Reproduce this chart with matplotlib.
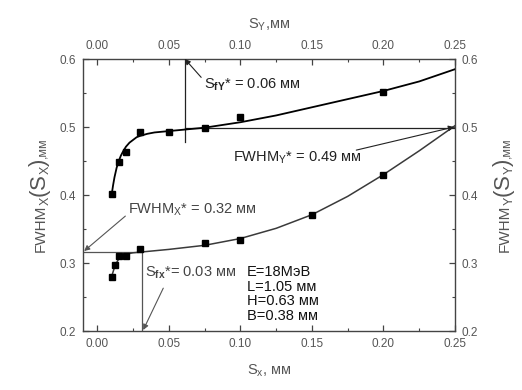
import matplotlib
matplotlib.use("Agg")
import matplotlib.pyplot as plt
from matplotlib.ticker import MultipleLocator, FormatStrFormatter
import matplotlib.transforms as mtransforms

plt.rcParams['font.family'] = ['Liberation Sans', 'DejaVu Sans']
plt.rcParams['mathtext.fontset'] = 'custom'
plt.rcParams['mathtext.rm'] = 'Liberation Sans'
plt.rcParams['mathtext.it'] = 'Liberation Sans:italic'
plt.rcParams['mathtext.bf'] = 'Liberation Sans:bold'

# ---- data: FWHM_X versus S_X (bottom / left axes) ----
sx_points = [0.010, 0.0125, 0.015, 0.020, 0.030, 0.075, 0.100, 0.150, 0.200]
fwhmx_points = [0.280, 0.297, 0.310, 0.311, 0.320, 0.330, 0.334, 0.371, 0.430]
sx_fit = [0.010, 0.0125, 0.015, 0.0175, 0.020, 0.025, 0.030, 0.040, 0.050,
          0.075, 0.100, 0.125, 0.150, 0.175, 0.200, 0.225, 0.250]
fwhmx_fit = [0.280, 0.297, 0.306, 0.311, 0.313, 0.315, 0.316, 0.318, 0.320,
             0.326, 0.336, 0.351, 0.371, 0.398, 0.430, 0.465, 0.502]

# ---- data: FWHM_Y versus S_Y (top / right axes) ----
sy_points = [0.010, 0.015, 0.020, 0.030, 0.050, 0.075, 0.100, 0.200]
fwhmy_points = [0.402, 0.449, 0.463, 0.492, 0.492, 0.499, 0.515, 0.551]
sy_fit = [0.010, 0.011, 0.012, 0.0135, 0.015, 0.0165, 0.018, 0.020, 0.0225,
          0.025, 0.0275, 0.030, 0.035, 0.040, 0.050, 0.060, 0.075, 0.100,
          0.125, 0.150, 0.175, 0.200, 0.225, 0.250]
fwhmy_fit = [0.400, 0.414, 0.426, 0.440, 0.450, 0.458, 0.464, 0.471, 0.477,
             0.481, 0.485, 0.487, 0.490, 0.492, 0.494, 0.496, 0.499, 0.507,
             0.517, 0.529, 0.541, 0.553, 0.567, 0.585]

# ---- characteristic values ----
sfy_star = 0.0612       # S_fY*
fwhmy_level = 0.499     # FWHM_Y* line level
sfx_star = 0.031        # S_fx*
fwhmx_level = 0.316     # FWHM_X* line level

xlim = (-0.01, 0.25)
ylim = (0.2, 0.6)
x_ticks = [0.00, 0.05, 0.10, 0.15, 0.20, 0.25]
y_ticks = [0.2, 0.3, 0.4, 0.5, 0.6]

params_text = ["E=18МэВ", "L=1.05 мм", "H=0.63 мм", "B=0.38 мм"]

W, H = 522, 390
fig = plt.figure(figsize=(W / 100, H / 100), dpi=100)
pos = [83 / W, 59 / H, 372 / W, 272 / H]
ax = fig.add_axes(pos)
ax2 = fig.add_axes(pos, frameon=False)
ax2.patch.set_visible(False)

tick_col = '#555555'
spine_col = '#444444'

for a in (ax, ax2):
    a.set_xlim(*xlim)
    a.set_ylim(*ylim)
    a.set_xticks(x_ticks)
    a.set_yticks(y_ticks)
    a.xaxis.set_minor_locator(MultipleLocator(0.025))
    a.yaxis.set_minor_locator(MultipleLocator(0.05))
    a.xaxis.set_major_formatter(FormatStrFormatter('%.2f'))
    a.yaxis.set_major_formatter(FormatStrFormatter('%.1f'))

for s in ax.spines.values():
    s.set_color(spine_col)
    s.set_linewidth(1.0)

ax.tick_params(which='both', direction='in', top=False, right=False,
               colors=spine_col, labelcolor=tick_col, labelsize=8.5)
ax.tick_params(which='major', length=4, width=0.9)
ax.tick_params(which='minor', length=2.5, width=0.8)
ax.tick_params(axis='x', pad=5)
ax.tick_params(axis='y', pad=5)

ax2.xaxis.tick_top()
ax2.xaxis.set_label_position('top')
ax2.yaxis.tick_right()
ax2.tick_params(which='both', direction='in', bottom=False, left=False,
                labelbottom=False, labelleft=False, top=True, right=True,
                labeltop=True, labelright=True,
                colors=spine_col, labelcolor=tick_col, labelsize=8.5)
ax2.tick_params(which='major', length=4, width=0.9)
ax2.tick_params(which='minor', length=2.5, width=0.8)
ax2.tick_params(axis='x', pad=5)
ax2.tick_params(axis='y', pad=5)

# ---- curves ----
ax.plot(sx_fit, fwhmx_fit, color='#3a3a3a', lw=1.1, zorder=3)
ax.plot(sx_points, fwhmx_points, ls='none', marker='s', ms=5,
        color='black', zorder=4)
ax2.plot(sy_fit, fwhmy_fit, color='black', lw=1.3, zorder=3)
ax2.plot(sy_points, fwhmy_points, ls='none', marker='s', ms=5,
         color='black', zorder=4)

# ---- characteristic lines ----
ax2.plot([sfy_star, sfy_star], [ylim[1], 0.478], color='#222222', lw=0.9)
ax2.plot([sfy_star, xlim[1]], [fwhmy_level, fwhmy_level], color='#222222', lw=0.9)
ax.plot([xlim[0], sfx_star], [fwhmx_level, fwhmx_level], color='#555555', lw=0.9)
ax.plot([sfx_star, sfx_star], [0.322, ylim[0]], color='#555555', lw=0.9)

ann_fs = 10.5
arrow_k = dict(arrowstyle='-|>', lw=0.8, mutation_scale=8, shrinkA=0, shrinkB=0)

ax2.text(0.0747, 0.562, r'S$_{\mathbf{fY}}$* = 0.06 мм', fontsize=ann_fs,
         va='center', ha='left', color='#222222')
ax2.annotate('', xy=(sfy_star, ylim[1]), xytext=(0.0726, 0.573),
             arrowprops=dict(color='#222222', **arrow_k))

ax2.text(0.095, 0.4544, r'FWHM$_\mathregular{Y}$* = 0.49 мм', fontsize=ann_fs,
         va='center', ha='left', color='#222222')
ax2.annotate('', xy=(0.2493, 0.5), xytext=(0.181, 0.466),
             arrowprops=dict(color='#222222', **arrow_k))

ax.text(0.0216, 0.378, r'FWHM$_\mathregular{X}$* = 0.32 мм', fontsize=ann_fs,
        va='center', ha='left', color='#444444')
ax.annotate('', xy=(-0.0092, 0.3176), xytext=(0.0196, 0.369),
            arrowprops=dict(color='#555555', **arrow_k))

ax.text(0.0335, 0.2853, r'S$_{\mathbf{fx}}$*= 0.03 мм', fontsize=ann_fs,
        va='center', ha='left', color='#444444')
ax.annotate('', xy=(0.0321, 0.2015), xytext=(0.0461, 0.263),
            arrowprops=dict(color='#555555', **arrow_k))

ax.text(0.1047, 0.2965, "\n".join(params_text), fontsize=ann_fs,
        va='top', ha='left', color='#111111', linespacing=1.05)

# ---- axis titles ----
ax.set_xlabel(r'S$_\mathregular{x}$, мм', fontsize=10.5, color=tick_col, labelpad=9)
ax2.set_xlabel(r'S$_\mathregular{Y}$,мм', fontsize=10.5, color=tick_col, labelpad=8)

fig.canvas.draw()
renderer = fig.canvas.get_renderer()
ident = mtransforms.IdentityTransform()


def rotated_label(x_base, pieces, y_center):
    """Compose a vertical label (reading bottom-to-top) of mixed-size pieces."""
    texts = []
    y = 0.0
    for s, size, shift in pieces:
        t = fig.text(x_base + shift, y, s, fontsize=size, rotation=90,
                     rotation_mode='anchor', ha='left', va='baseline',
                     color=tick_col, transform=ident)
        ext = t.get_window_extent(renderer)
        texts.append(t)
        y += ext.height
    total = y
    y0 = y_center - total / 2
    for t in texts:
        x, yy = t.get_position()
        t.set_position((x, yy + y0))


ycen = H - (59 + 331) / 2
big = 16
sub = 9
left_pieces = [("FWHM", 11, 0), ("X", sub, 4), ("(", big, 0), ("S", big, 0),
               ("X", sub, 4), (")", big, 0), (",мм", 9, 0)]
rotated_label(45, left_pieces, ycen)
right_pieces = [("FWHM", 11, 0), ("Y", sub, 4), ("(", big, 0), ("S", big, 0),
                ("Y", sub, 4), (")", big, 0), (",мм", 9, 0)]
rotated_label(509, right_pieces, ycen)

fig.savefig('out.png', dpi=100)
